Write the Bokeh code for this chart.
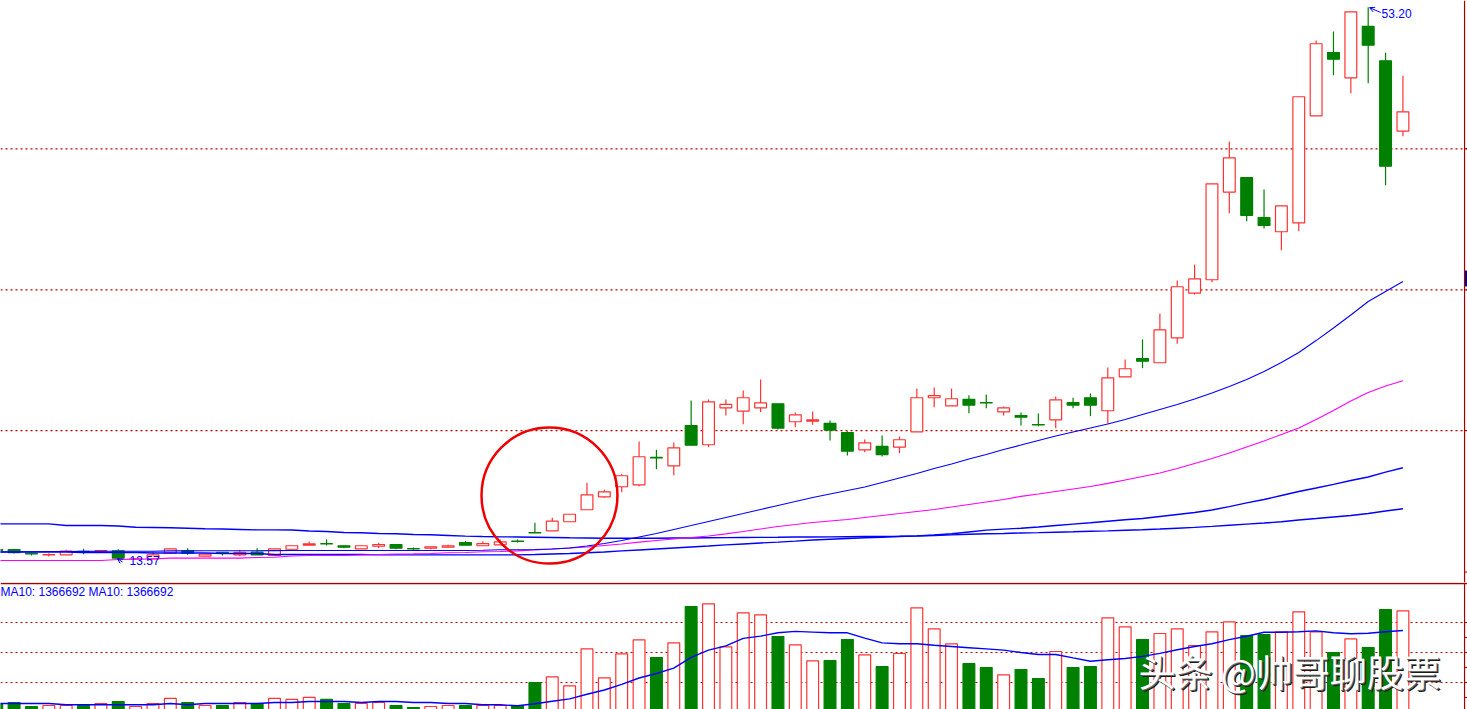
from bokeh.plotting import figure
from bokeh.layouts import column
from bokeh.models import Range1d, Span, Label, Arrow, OpenHead
from bokeh.embed import file_html
from bokeh.resources import INLINE

# ---------------- data ----------------
opens = [14.32, 14.32, 14.04, 13.93, 13.94, 14.19, 14.21, 14.23, 13.64, 13.65,
         14.06, 14.23, 13.84, 14.11, 13.94, 14.13, 13.89, 14.34, 14.63, 14.74,
         14.59, 14.37, 14.56, 14.68, 14.38, 14.42, 14.49, 14.82, 14.59, 14.66,
         14.93, 15.54, 15.66, 16.31, 17.17, 18.10, 18.82, 18.96, 20.92, 20.32,
         23.21, 21.83, 24.48, 24.24, 24.48, 24.77, 23.48, 23.52, 23.36, 22.71,
         21.47, 21.71, 21.66, 22.76, 25.20, 24.62, 25.08, 24.86, 24.19, 23.93,
         23.28, 23.62, 24.86, 25.20, 24.27, 26.70, 28.01, 27.71, 29.50, 32.70,
         33.66, 39.94, 40.99, 38.12, 37.10, 37.74, 45.41, 49.95, 48.14, 51.82,
         49.36, 44.31]
highs = [14.39, 14.37, 14.13, 14.06, 14.30, 14.37, 14.25, 14.34, 13.71, 14.18,
         14.37, 14.42, 13.99, 14.14, 14.27, 14.42, 14.37, 14.59, 14.90, 15.04,
         14.59, 14.59, 14.80, 14.68, 14.47, 14.52, 14.68, 14.92, 14.92, 15.04,
         15.04, 16.24, 16.60, 16.85, 19.10, 18.60, 19.75, 22.06, 21.47, 21.99,
         25.00, 25.08, 25.08, 25.72, 26.51, 24.77, 24.14, 24.22, 23.57, 22.80,
         22.21, 22.50, 22.42, 25.86, 25.94, 25.86, 25.38, 25.43, 24.57, 24.14,
         24.07, 25.29, 25.20, 25.51, 27.37, 27.94, 29.38, 31.24, 33.61, 34.75,
         40.54, 43.57, 40.99, 40.13, 38.96, 46.78, 50.81, 51.46, 52.87, 53.20,
         49.93, 48.28]
lows = [14.18, 14.04, 13.89, 13.82, 13.94, 13.99, 14.20, 13.57, 13.60, 13.65,
        14.06, 13.94, 13.84, 13.89, 13.84, 13.94, 13.89, 14.23, 14.63, 14.61,
        14.42, 14.37, 14.42, 14.34, 14.27, 14.34, 14.44, 14.63, 14.59, 14.66,
        14.82, 15.51, 15.66, 16.31, 17.17, 18.03, 18.43, 18.86, 20.08, 19.65,
        21.80, 21.66, 23.93, 23.31, 24.17, 22.93, 23.09, 23.26, 22.14, 21.06,
        21.30, 20.99, 21.23, 22.76, 24.52, 24.62, 24.09, 24.45, 23.93, 23.21,
        23.16, 23.02, 24.45, 23.88, 23.33, 26.70, 27.32, 27.71, 29.07, 32.60,
        33.49, 38.43, 37.86, 37.34, 35.78, 37.14, 45.41, 48.32, 47.03, 47.75,
        40.44, 43.95]
closes = [14.25, 14.09, 14.00, 13.95, 14.20, 14.16, 14.24, 13.70, 13.66, 13.94,
          14.37, 14.06, 13.99, 14.06, 14.11, 13.94, 14.37, 14.59, 14.73, 14.72,
          14.49, 14.59, 14.68, 14.42, 14.36, 14.52, 14.59, 14.63, 14.75, 14.87,
          14.90, 15.51, 16.35, 16.85, 18.24, 18.46, 19.61, 20.97, 20.88, 21.61,
          21.80, 24.91, 24.72, 25.20, 24.84, 23.02, 23.98, 23.62, 22.88, 21.37,
          21.97, 21.13, 22.19, 25.20, 25.36, 25.13, 24.67, 24.83, 24.48, 23.81,
          23.25, 25.05, 24.67, 24.67, 26.63, 27.28, 27.82, 30.07, 33.16, 33.73,
          40.54, 42.40, 38.27, 37.55, 38.96, 46.78, 50.58, 49.47, 52.87, 50.48,
          41.80, 45.70]
volumes = [145000, 167000, 100000, 117000, 117000, 128000, 150000, 183000, 100000, 150000,
           235000, 167000, 117000, 117000, 167000, 150000, 235000, 218000, 252000, 218000,
           150000, 150000, 167000, 117000, 83000, 100000, 117000, 117000, 117000, 117000,
           117000, 500000, 595000, 445000, 1062000, 578000, 978000, 1212000, 917000, 1162000,
           1767000, 1812000, 1095000, 1662000, 1628000, 1267000, 1128000, 862000, 867000, 1217000,
           962000, 767000, 983000, 1745000, 1395000, 1145000, 817000, 750000, 628000, 717000,
           567000, 1017000, 750000, 767000, 1578000, 1428000, 1217000, 1317000, 1395000, 1117000,
           1345000, 1512000, 1283000, 1300000, 1345000, 1678000, 1345000, 1000000, 1228000, 1083000,
           1717000, 1695000]
vol_ma10 = [150000, 150000, 150000, 150000, 128000, 128000, 128000, 128000, 128000, 128000,
            150000, 128000, 150000, 150000, 150000, 150000, 167000, 167000, 183000, 183000,
            183000, 167000, 183000, 183000, 167000, 167000, 150000, 150000, 128000, 128000,
            112000, 145000, 188000, 228000, 305000, 375000, 470000, 575000, 650000, 740000,
            920000, 1040000, 1110000, 1235000, 1272000, 1330000, 1352000, 1340000, 1328000, 1328000,
            1240000, 1160000, 1145000, 1145000, 1120000, 1100000, 1080000, 1060000, 1040000, 1000000,
            967000, 967000, 910000, 855000, 880000, 900000, 935000, 985000, 1045000, 1100000,
            1145000, 1215000, 1270000, 1338000, 1338000, 1345000, 1360000, 1330000, 1312000, 1322000,
            1345000, 1366692]
ma_a = [14.14, 14.16, 14.16, 14.18, 14.18, 14.19, 14.20, 14.20, 14.20, 14.20,
        14.22, 14.22, 14.23, 14.23, 14.23, 14.23, 14.24, 14.25, 14.25, 14.25,
        14.25, 14.25, 14.25, 14.25, 14.25, 14.25, 14.25, 14.25, 14.27, 14.30,
        14.30, 14.32, 14.36, 14.43, 14.57, 14.75, 14.97, 15.22, 15.47, 15.76,
        16.04, 16.33, 16.62, 16.90, 17.19, 17.48, 17.76, 18.05, 18.30, 18.55,
        18.80, 19.13, 19.45, 19.77, 20.13, 20.45, 20.81, 21.13, 21.49, 21.81,
        22.14, 22.46, 22.75, 23.03, 23.32, 23.64, 24.00, 24.36, 24.72, 25.11,
        25.54, 26.01, 26.51, 27.08, 27.73, 28.45, 29.30, 30.20, 31.13, 32.10,
        32.82, 33.53]
ma_b = [13.53, 13.53, 13.53, 13.53, 13.53, 13.53, 13.53, 13.61, 13.63, 13.64,
        13.70, 13.70, 13.70, 13.70, 13.70, 13.75, 13.77, 13.86, 13.89, 13.89,
        13.89, 13.93, 13.96, 14.00, 14.01, 14.04, 14.09, 14.11, 14.16, 14.18,
        14.22, 14.29, 14.36, 14.43, 14.50, 14.61, 14.72, 14.85, 14.97, 15.08,
        15.18, 15.29, 15.44, 15.61, 15.79, 15.97, 16.11, 16.26, 16.37, 16.47,
        16.62, 16.76, 16.90, 17.05, 17.19, 17.37, 17.55, 17.73, 17.91, 18.13,
        18.30, 18.48, 18.66, 18.84, 19.06, 19.31, 19.56, 19.81, 20.13, 20.49,
        20.85, 21.24, 21.67, 22.10, 22.57, 23.03, 23.64, 24.29, 24.97, 25.58,
        26.04, 26.42]
ma_c = [14.14, 14.14, 14.14, 14.14, 14.14, 14.11, 14.11, 14.11, 14.11, 14.07,
        14.07, 14.07, 14.07, 14.04, 14.04, 14.04, 13.96, 13.96, 13.96, 13.96,
        13.96, 13.96, 13.94, 13.94, 13.94, 13.94, 13.94, 13.94, 13.94, 13.94,
        13.94, 13.96, 14.00, 14.04, 14.09, 14.14, 14.22, 14.29, 14.36, 14.43,
        14.50, 14.57, 14.65, 14.72, 14.79, 14.85, 14.92, 15.00, 15.06, 15.11,
        15.16, 15.20, 15.25, 15.30, 15.36, 15.45, 15.58, 15.71, 15.78, 15.85,
        15.94, 16.04, 16.14, 16.24, 16.35, 16.45, 16.54, 16.69, 16.83, 16.97,
        17.15, 17.40, 17.66, 17.91, 18.19, 18.48, 18.73, 18.99, 19.27, 19.52,
        19.87, 20.18]
ma_d = [16.16, 16.16, 16.16, 16.16, 16.04, 16.04, 16.04, 16.01, 15.92, 15.90,
        15.88, 15.85, 15.81, 15.79, 15.76, 15.73, 15.73, 15.72, 15.65, 15.61,
        15.54, 15.52, 15.47, 15.45, 15.40, 15.38, 15.33, 15.28, 15.25, 15.23,
        15.22, 15.20, 15.18, 15.16, 15.15, 15.13, 15.13, 15.13, 15.13, 15.15,
        15.15, 15.16, 15.17, 15.18, 15.19, 15.20, 15.22, 15.22, 15.23, 15.24,
        15.25, 15.26, 15.27, 15.29, 15.33, 15.37, 15.41, 15.45, 15.47, 15.51,
        15.53, 15.56, 15.59, 15.63, 15.66, 15.70, 15.74, 15.79, 15.85, 15.91,
        15.98, 16.06, 16.14, 16.22, 16.31, 16.44, 16.54, 16.65, 16.76, 16.90,
        17.08, 17.24]
price_grid = [43.05, 32.94, 22.85]
price_ticks = [43.05, 32.94, 22.85, 12.70]
volume_grid = [1500000, 1000000, 500000]
volume_ticks = [1500000, 1250000, 1000000, 750000, 500000, 250000]
watermark = "头条 @帅哥聊股票"

# ---------------- styling / layout ----------------
RED = "#ff3232"
GREEN = "#008000"
BLUE = "#0000ff"
MAGENTA = "#ff00ff"
GRID = "#c00000"
FRAME = "#a00000"
W, H1, H2 = 1467, 582, 127
X_RANGE = (0.2166, 84.72)
BORDER_X = 84.55
BODY_W = 0.68

n = len(opens)
idx = list(range(n))
is_up = [c >= o for o, c in zip(opens, closes)]
colors = [RED if u else GREEN for u in is_up]
up_i = [i for i in idx if is_up[i]]
dn_i = [i for i in idx if not is_up[i]]

# ---------------- price pane ----------------
p1 = figure(width=W, height=H1, x_range=Range1d(*X_RANGE), y_range=Range1d(11.956, 53.68),
            x_axis_type=None, y_axis_type=None, toolbar_location=None,
            output_backend="svg", min_border=0, outline_line_color=None,
            background_fill_color="white", border_fill_color="white")

for loc in price_grid:
    p1.add_layout(Span(location=loc, dimension="width", line_color=GRID,
                       line_dash="2 3", line_width=1.2, level="underlay"))

p1.segment(x0=idx, y0=highs, x1=idx, y1=lows, line_color=colors, line_width=1.2)
p1.vbar(x=up_i, width=BODY_W, top=[closes[i] for i in up_i], bottom=[opens[i] for i in up_i],
        fill_color="white", line_color=RED, line_width=1.2)
p1.vbar(x=dn_i, width=BODY_W, top=[opens[i] for i in dn_i], bottom=[closes[i] for i in dn_i],
        fill_color=GREEN, line_color=GREEN, line_width=1.2)

p1.line(idx, ma_d, line_color=BLUE, line_width=1.4)
p1.line(idx, ma_c, line_color=BLUE, line_width=1.4)
p1.line(idx, ma_b, line_color=MAGENTA, line_width=1.1)
p1.line(idx, ma_a, line_color=BLUE, line_width=1.1)

# highest / lowest marks
hi_i = max(idx, key=lambda i: highs[i])
lo_i = min(idx, key=lambda i: lows[i])
p1.add_layout(Arrow(end=OpenHead(size=5, line_color=BLUE, line_width=1),
                    x_start=hi_i + 0.72, y_start=highs[hi_i] - 0.38,
                    x_end=hi_i + 0.08, y_end=highs[hi_i] - 0.03,
                    line_color=BLUE, line_width=1))
p1.add_layout(Label(x=hi_i + 0.77, y=highs[hi_i] - 0.45, text=f"{highs[hi_i]:.2f}",
                    text_color=BLUE, text_font_size="12px", text_font="Liberation Sans",
                    text_baseline="middle"))
p1.add_layout(Arrow(end=OpenHead(size=5, line_color=BLUE, line_width=1),
                    x_start=lo_i + 0.25, y_start=lows[lo_i] - 0.15,
                    x_end=lo_i - 0.05, y_end=lows[lo_i] + 0.1,
                    line_color=BLUE, line_width=1))
p1.add_layout(Label(x=lo_i + 0.65, y=lows[lo_i] - 0.04, text=f"{lows[lo_i]:.2f}",
                    text_color=BLUE, text_font_size="12px", text_font="Liberation Sans",
                    text_baseline="middle"))

# red highlight circle
circle_center = (31.84, 18.19)
circle_size = (7.83, 9.75)
p1.ellipse(x=[circle_center[0]], y=[circle_center[1]], width=circle_size[0],
           height=circle_size[1], fill_color=None, line_color="#ee0000", line_width=2.5)

# right border + ticks + marker
p1.add_layout(Span(location=BORDER_X, dimension="height", line_color=FRAME, line_width=1.2))
p1.segment(x0=[BORDER_X] * len(price_ticks), y0=price_ticks,
           x1=[X_RANGE[1]] * len(price_ticks), y1=price_ticks, line_color=FRAME, line_width=1)
p1.quad(left=[BORDER_X], right=[X_RANGE[1]], bottom=[33.18], top=[34.32],
        fill_color="#000080", line_color=None)

# ---------------- volume pane ----------------
p2 = figure(width=W, height=H2, x_range=p1.x_range, y_range=Range1d(50000, 2166667),
            x_axis_type=None, y_axis_type=None, toolbar_location=None,
            output_backend="svg", min_border=0, outline_line_color=None,
            background_fill_color="white", border_fill_color="white")

for loc in volume_grid:
    p2.add_layout(Span(location=loc, dimension="width", line_color=GRID,
                       line_dash="2 3", line_width=1.2, level="underlay"))

p2.vbar(x=up_i, width=BODY_W, top=[volumes[i] for i in up_i], bottom=0,
        fill_color="white", line_color=RED, line_width=1.2)
p2.vbar(x=dn_i, width=BODY_W, top=[volumes[i] for i in dn_i], bottom=0,
        fill_color=GREEN, line_color=GREEN, line_width=1.2)
p2.line(idx, vol_ma10, line_color=BLUE, line_width=1.4)

p2.add_layout(Span(location=2150000, dimension="width", line_color=FRAME, line_width=1.5))
p2.add_layout(Span(location=BORDER_X, dimension="height", line_color=FRAME, line_width=1.2))
p2.segment(x0=[BORDER_X] * len(volume_ticks), y0=volume_ticks,
           x1=[X_RANGE[1]] * len(volume_ticks), y1=volume_ticks, line_color=FRAME, line_width=1)

last_ma = vol_ma10[-1]
p2.add_layout(Label(x=0, y=H2 - 9, x_units="screen", y_units="screen",
                    text=f"MA10: {last_ma} MA10: {last_ma}", text_color=BLUE,
                    text_font_size="12px", text_font="Liberation Sans",
                    text_baseline="middle"))

wm_x, wm_y = 1138, 39
for dx, dy, col in [(2, -2, "#1a1a1a"), (1, -1, "#6a6a6a"), (0, 0, "white")]:
    p2.add_layout(Label(x=wm_x + dx, y=wm_y + dy, x_units="screen", y_units="screen",
                        text=watermark, text_color=col, text_font_size="37px",
                        text_font="Noto Sans CJK SC", text_baseline="middle"))

layout = column(p1, p2, spacing=0)
open("out.html", "w").write(file_html(layout, INLINE))
